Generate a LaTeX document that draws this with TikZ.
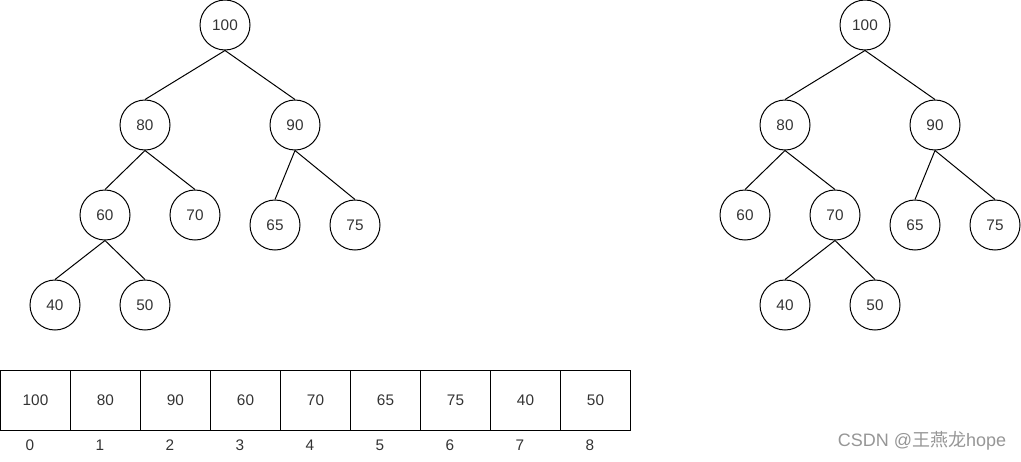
\documentclass[tikz,border=0pt]{standalone}
\usepackage{fontspec}
\setmainfont{Liberation Sans}
\newfontfamily\cjkfont{Noto Sans CJK SC}
\definecolor{wmgray}{RGB}{150,150,150}
\begin{document}
\begin{tikzpicture}[x=0.75pt,y=-0.75pt,
  every node/.style={font=\fontsize{11.5pt}{13pt}\selectfont, text=black!80},
  heapnode/.style={circle, draw=black, line width=0.75pt, minimum size=37.5pt, inner sep=0pt},
  cell/.style={rectangle, draw=black, line width=0.75pt, minimum width=52.5pt, minimum height=45pt, inner sep=0pt},
  idx/.style={inner sep=0pt},
  edge/.style={draw=black, line width=0.75pt},
  wm/.style={text=wmgray, font=\fontsize{13.5pt}{15pt}\selectfont, inner sep=0pt}]
\useasboundingbox (0,0) rectangle (1021,461);
% left tree
\node[heapnode] (a100) at (225,25) {100};
\node[heapnode] (a80) at (145,125) {80};
\node[heapnode] (a90) at (295,125) {90};
\node[heapnode] (a60) at (105,215) {60};
\node[heapnode] (a70) at (195,215) {70};
\node[heapnode] (a65) at (275,225) {65};
\node[heapnode] (a75) at (355,225) {75};
\node[heapnode] (a40) at (55,305) {40};
\node[heapnode] (a50) at (145,305) {50};
\draw[edge] (a100.south) -- (a80.north);
\draw[edge] (a100.south) -- (a90.north);
\draw[edge] (a80.south) -- (a60.north);
\draw[edge] (a80.south) -- (a70.north);
\draw[edge] (a90.south) -- (a65.north);
\draw[edge] (a90.south) -- (a75.north);
\draw[edge] (a60.south) -- (a40.north);
\draw[edge] (a60.south) -- (a50.north);
% right tree
\node[heapnode] (b100) at (865,25) {100};
\node[heapnode] (b80) at (785,125) {80};
\node[heapnode] (b90) at (935,125) {90};
\node[heapnode] (b60) at (745,215) {60};
\node[heapnode] (b70) at (835,215) {70};
\node[heapnode] (b65) at (915,225) {65};
\node[heapnode] (b75) at (995,225) {75};
\node[heapnode] (b40) at (785,305) {40};
\node[heapnode] (b50) at (875,305) {50};
\draw[edge] (b100.south) -- (b80.north);
\draw[edge] (b100.south) -- (b90.north);
\draw[edge] (b80.south) -- (b60.north);
\draw[edge] (b80.south) -- (b70.north);
\draw[edge] (b90.south) -- (b65.north);
\draw[edge] (b90.south) -- (b75.north);
\draw[edge] (b70.south) -- (b40.north);
\draw[edge] (b70.south) -- (b50.north);
% array
\foreach \v [count=\i from 0] in {100,80,90,60,70,65,75,40,50} {
  \node[cell] (c\i) at (35.5+70*\i,400) {\v};
  \node[idx] (n\i) at (30+70*\i,445) {\i};
}
% watermark
\node[wm] (wm) at (922,441) {CSDN @{\cjkfont 王燕龙}hope};
\end{tikzpicture}
\end{document}
